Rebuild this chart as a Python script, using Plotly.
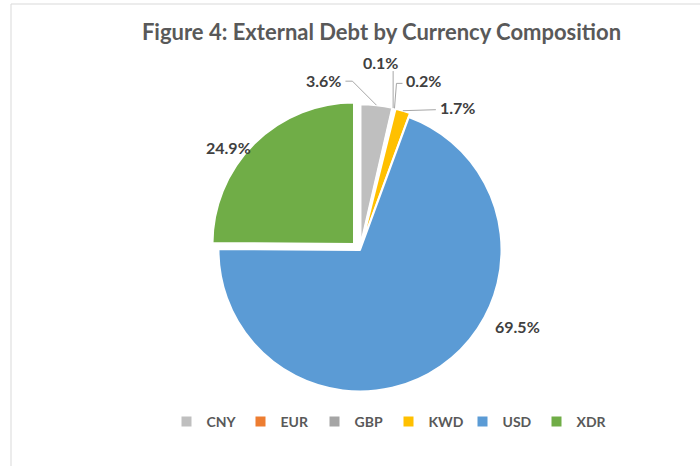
import math
import plotly.graph_objects as go

# External debt shares by currency (percent of total)
currencies = ["CNY", "EUR", "GBP", "KWD", "USD", "XDR"]
shares = [3.6, 0.1, 0.2, 1.7, 69.5, 24.9]
colors = ["#BFBFBF", "#ED7D31", "#A5A5A5", "#FFC000", "#5B9BD5", "#70AD47"]
pulls = [0.03, 0.03, 0.03, 0.03, 0.0, 0.06]

# label placement (pixels): offset of each label's anchor from its slice's outer edge
label_offsets = [(-33, -25), (-13, -46), (10, -28), (35, -3), (77, -40), (-26, 4)]
label_anchor = ["right", "center", "left", "left", "center", "center"]
# leader lines: start point relative to the label anchor, elbow relative to the start
leader_start = [(2, 1), (13, 9), (-2, 3), (-2, 2), None, None]
leader_elbow = [(7, 0), (0, 0), (-6, 0), (0, 0), None, None]

W, H = 700, 466
FONT = "Lato"

# pie geometry in pixels
dom_x = (210, 510)
dom_y = (100, 400)
cx = sum(dom_x) / 2
cy = sum(dom_y) / 2
radius = min(dom_x[1] - dom_x[0], dom_y[1] - dom_y[0]) / 2 / (1 + max(pulls))


def px(x, y):
    return x / W, 1 - y / H


fig = go.Figure(
    go.Pie(
        labels=currencies,
        values=shares,
        sort=False,
        direction="clockwise",
        rotation=0,
        pull=pulls,
        marker=dict(colors=colors, line=dict(color="white", width=2)),
        textinfo="none",
        hoverinfo="label+percent",
        domain=dict(x=[dom_x[0] / W, dom_x[1] / W], y=[1 - dom_y[1] / H, 1 - dom_y[0] / H]),
        showlegend=True,
    )
)

annotations = []
shapes = []
total = sum(shares)
cum = 0.0
for i, v in enumerate(shares):
    mid = (cum + v / 2) / total * 2 * math.pi
    cum += v
    r_edge = radius * (1 + pulls[i])
    ex = cx + r_edge * math.sin(mid)
    ey = cy - r_edge * math.cos(mid)
    dx, dy = label_offsets[i]
    tx, ty = ex + dx, ey + dy
    ax, ay = px(tx, ty)
    annotations.append(
        dict(
            x=ax,
            y=ay,
            xref="paper",
            yref="paper",
            text=f"<b>{v:.1f}%</b>",
            showarrow=False,
            xanchor=label_anchor[i],
            yanchor="middle",
            font=dict(family=FONT, size=16, color="#404040"),
        )
    )
    if leader_start[i] is not None:
        sx, sy = tx + leader_start[i][0], ty + leader_start[i][1]
        bx, by = sx + leader_elbow[i][0], sy + leader_elbow[i][1]
        pts = [px(sx, sy), px(bx, by), px(ex, ey)]
        path = "M {} {} L {} {} L {} {}".format(*[c for p in pts for c in p])
        shapes.append(
            dict(type="path", xref="paper", yref="paper", path=path,
                 line=dict(color="#A6A6A6", width=1))
        )

# chart-area frame
shapes.append(
    dict(
        type="rect",
        xref="paper",
        yref="paper",
        x0=11 / W,
        x1=1.02,
        y0=-0.02,
        y1=1 - 4 / H,
        line=dict(color="#D9D9D9", width=1),
        fillcolor="rgba(0,0,0,0)",
        layer="below",
    )
)

fig.update_layout(
    width=W,
    height=H,
    margin=dict(l=0, r=0, t=0, b=0),
    paper_bgcolor="white",
    plot_bgcolor="white",
    font=dict(family=FONT, color="#595959"),
    title=dict(
        text="<b>Figure 4: External Debt by Currency Composition</b>",
        x=0.545,
        xanchor="center",
        y=1 - 32 / H,
        yanchor="middle",
        font=dict(family=FONT, size=22, color="#595959"),
    ),
    legend=dict(
        orientation="h",
        x=0.555,
        xanchor="center",
        y=1 - 422 / H,
        yanchor="middle",
        font=dict(family=FONT, size=14, color="#595959", weight="bold"),
        itemwidth=30,
        entrywidth=29,
        traceorder="normal",
    ),
    annotations=annotations,
    shapes=shapes,
)

fig.write_html("out.html")
